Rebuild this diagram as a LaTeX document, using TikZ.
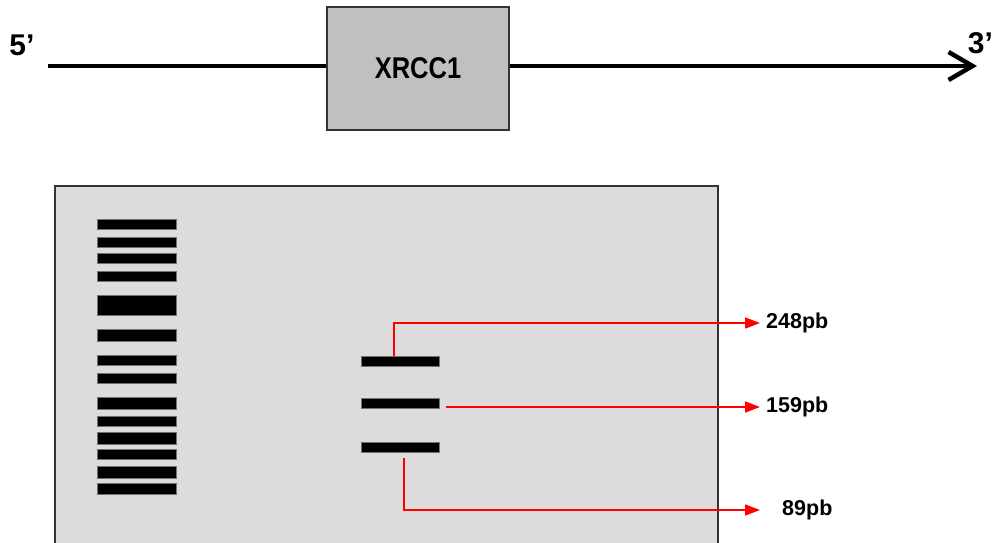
\documentclass[tikz,border=0pt]{standalone}
\usepackage{fontspec}
\setmainfont{Liberation Sans}
\usetikzlibrary{arrows.meta,calc}
\definecolor{genefill}{HTML}{C0C0C0}
\definecolor{gelfill}{HTML}{DCDCDC}
\definecolor{frame}{HTML}{333333}
\definecolor{pointred}{HTML}{FF0000}
\begin{document}
\begin{tikzpicture}[x=1pt,y=-1pt,
  strand/.style={line width=4.5pt,black},
  genebox/.style={draw=frame,line width=1.5pt,fill=genefill,minimum width=182pt,minimum height=123pt,inner sep=0pt,
    font=\fontsize{30pt}{30pt}\selectfont\bfseries},
  endlabel/.style={inner sep=0pt,font=\fontsize{30pt}{30pt}\selectfont\bfseries},
  gelframe/.style={draw=frame,line width=2pt,fill=gelfill},
  ladderbar/.style={fill=black,draw=black!55,line width=0.8pt},
  band/.style={fill=black,draw=black!55,line width=0.8pt,minimum width=78pt,minimum height=10pt,inner sep=0pt},
  sizelabel/.style={anchor=west,inner sep=0pt,font=\fontsize{21.5pt}{21.5pt}\selectfont\bfseries},
  pointer/.style={draw=pointred,line width=1.6pt,-{Triangle[length=15pt,width=11pt]}}
]
\useasboundingbox (0,0) rectangle (994,543);

% gene strand with the XRCC1 box
\node[genebox] (gene) at (418,68.5) {\scalebox{0.85}[1]{XRCC1}};
\coordinate (five) at (48,66);
\coordinate (three) at (977,66);
\draw[strand] (five) -- (gene.west |- five);
\draw[strand,-{Straight Barb[length=24pt,width=28pt]}] (gene.east |- three) -- (three);
\node[endlabel] (p5) at (22,45) {5’};
\node[endlabel] (p3) at (980.5,43) {3’};

% gel
\draw[gelframe] (55,186) rectangle (718,570);

% size ladder
\foreach \t/\b in {219/229,237/247,253/263,271/281,295/315,329/341,355/365,
                   373/383,397/409,416/426,432/444,449/459,466/478,483/494}
  \path[ladderbar] (97,\t) rectangle (176,\b);

% sample bands
\node[band] (b1) at (400,361) {};
\node[band] (b2) at (400,403.5) {};
\node[band] (b3) at (400,447) {};

% fragment sizes
\node[sizelabel] (l1) at (766,323) {248pb};
\node[sizelabel] (l2) at (766,407) {159pb};
\node[sizelabel] (l3) at (782,510) {89pb};

\draw[pointer] ([xshift=-6pt]b1.north) |- ([xshift=-6pt]l1.west);
\draw[pointer] ([xshift=7pt]b2.east |- l2.west) -- ([xshift=-6pt]l2.west);
\draw[pointer] ([shift={(4pt,-6pt)}]b3.south) |- ([xshift=-6pt]l1.west |- l3.west);
\end{tikzpicture}
\end{document}
